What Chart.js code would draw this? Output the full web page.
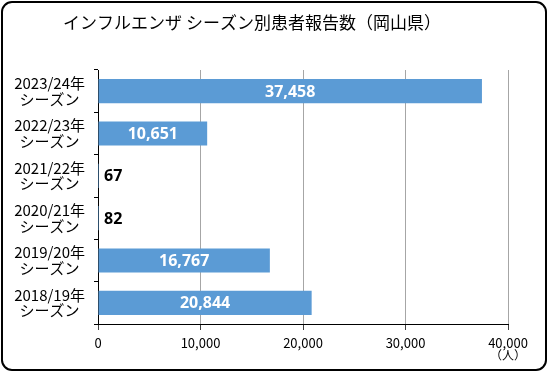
<!DOCTYPE html>
<html>
<head>
<meta charset="utf-8">
<script src="https://cdn.jsdelivr.net/npm/chart.js@4"></script>
<style>
  html, body { margin: 0; padding: 0; background: #fff; }
  #wrap { width: 549px; height: 373px; position: relative; }
</style>
</head>
<body>
<div id="wrap"><canvas id="chart"></canvas></div>
<script>
// data
const seasons = [
  ["2023/24年", "シーズン"],
  ["2022/23年", "シーズン"],
  ["2021/22年", "シーズン"],
  ["2020/21年", "シーズン"],
  ["2019/20年", "シーズン"],
  ["2018/19年", "シーズン"]
];
const patients = [37458, 10651, 67, 82, 16767, 20844];
const xTicks = [0, 10000, 20000, 30000, 40000];
const titleText = "インフルエンザ シーズン別患者報告数（岡山県）";
const unitText = "（人）";

const fmt = v => v.toLocaleString("en-US");

// rounded frame, title and unit label
const frame = {
  id: "frame",
  beforeDraw(chart) {
    const ctx = chart.ctx;
    ctx.save();
    ctx.fillStyle = "#fff";
    ctx.fillRect(0, 0, chart.width, chart.height);
    ctx.strokeStyle = "#000";
    ctx.lineWidth = 2;
    ctx.beginPath();
    ctx.roundRect(2, 2, chart.width - 5, chart.height - 5, 10);
    ctx.stroke();
    ctx.restore();
  },
  afterDraw(chart) {
    const ctx = chart.ctx;
    const x = chart.scales.x;
    ctx.save();
    ctx.fillStyle = "#000";
    ctx.textAlign = "center";
    ctx.textBaseline = "middle";
    ctx.font = '17px "Noto Sans CJK JP"';
    ctx.fillText(titleText, 252, 23);
    ctx.font = '12px "Noto Sans CJK JP"';
    ctx.fillText(unitText, x.getPixelForValue(xTicks[xTicks.length - 1]), 355);
    ctx.restore();
  }
};

// value labels: inside the bar when it is wide enough, else just after it
const barLabels = {
  id: "barLabels",
  afterDatasetsDraw(chart) {
    const ctx = chart.ctx;
    const meta = chart.getDatasetMeta(0);
    ctx.save();
    ctx.font = 'bold 16px "Open Sans"';
    ctx.textBaseline = "middle";
    meta.data.forEach((bar, i) => {
      const txt = fmt(patients[i]);
      if (bar.x - bar.base > 60) {
        ctx.fillStyle = "#fff";
        ctx.textAlign = "center";
        ctx.fillText(txt, (bar.x + bar.base) / 2, bar.y + 1);
      } else {
        ctx.fillStyle = "#000";
        ctx.textAlign = "left";
        ctx.fillText(txt, bar.x + 5, bar.y + 1);
      }
    });
    ctx.restore();
  }
};

new Chart(document.getElementById("chart"), {
  type: "bar",
  data: {
    labels: seasons,
    datasets: [{
      data: patients,
      backgroundColor: "#5B9BD5",
      borderWidth: 0,
      categoryPercentage: 1,
      barPercentage: 0.57,
      minBarLength: 1
    }]
  },
  options: {
    indexAxis: "y",
    responsive: true,
    maintainAspectRatio: false,
    animation: false,
    layout: { padding: { top: 70, right: 41, left: 0, bottom: 0 } },
    plugins: {
      legend: { display: false },
      title: { display: false },
      tooltip: { enabled: false }
    },
    scales: {
      x: {
        min: xTicks[0],
        max: xTicks[xTicks.length - 1],
        afterBuildTicks: s => { s.ticks = xTicks.map(v => ({ value: v })); },
        afterFit: s => { s.height = 49; },
        grid: { color: "#a6a6a6", tickLength: 6, tickColor: "#404040" },
        border: { color: "#000", width: 1 },
        ticks: {
          color: "#000",
          padding: 5,
          font: { family: "Noto Sans CJK JP", size: 13 },
          callback: v => fmt(v)
        }
      },
      y: {
        afterFit: s => { s.width = 98; },
        grid: { drawOnChartArea: false, tickLength: 4, color: "#000" },
        border: { color: "#000", width: 1 },
        ticks: {
          color: "#000",
          padding: 9,
          crossAlign: "center",
          font: { family: "Noto Sans CJK JP", size: 15, lineHeight: 1.05 }
        }
      }
    }
  },
  plugins: [frame, barLabels]
});
</script>
</body>
</html>
